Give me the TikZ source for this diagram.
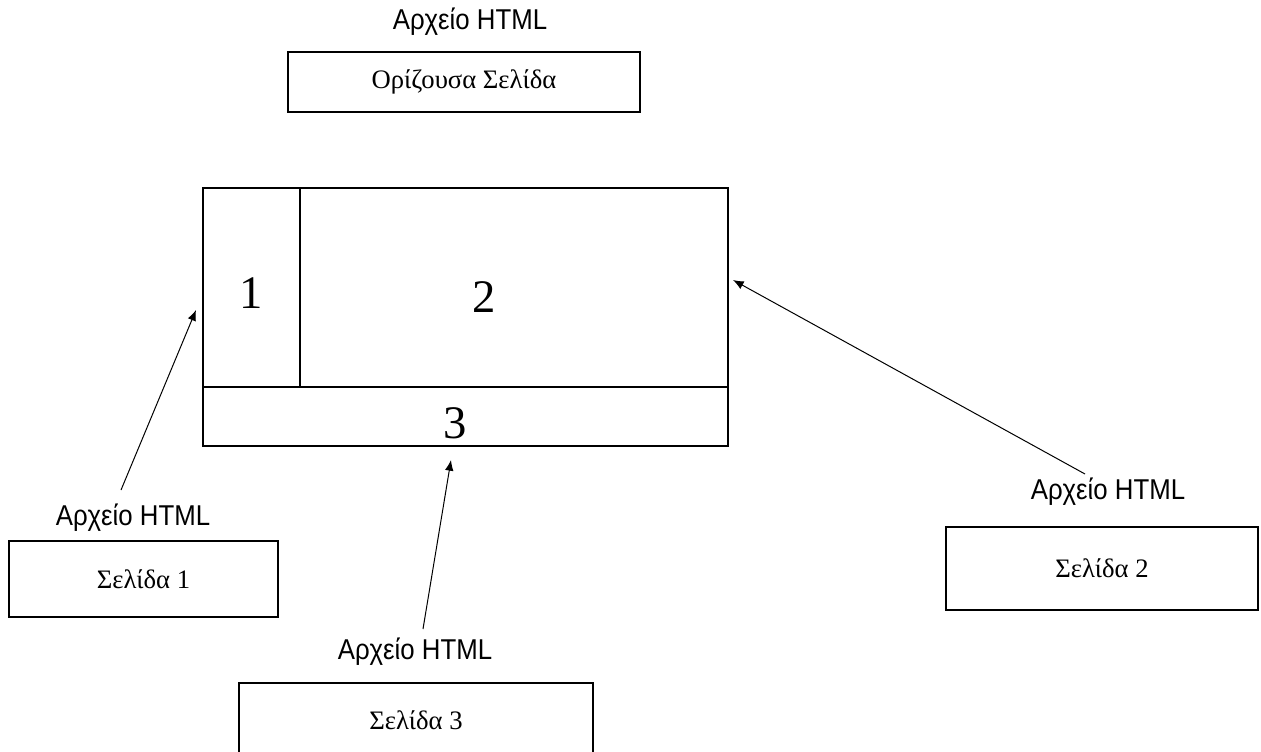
\documentclass[tikz,border=0pt]{standalone}
\usepackage{fontspec}
\usepackage{tikz}
\usetikzlibrary{arrows.meta,positioning,calc}
\newfontfamily\lblfont[FakeStretch=0.9]{Liberation Sans}
\newfontfamily\pagefont{Liberation Serif}
\tikzset{
  box/.style={draw=black, line width=1.2pt, inner sep=0pt, font=\pagefont\fontsize{20}{22}\selectfont},
  frame/.style={draw=black, line width=1.2pt, inner sep=0pt},
  flow/.style={-{Latex[length=8pt,width=6.5pt]}, line width=0.75pt, draw=black},
  lbl/.style={font=\lblfont\fontsize{21.5}{24}\selectfont, inner sep=0pt},
  num/.style={font=\pagefont\fontsize{35}{38}\selectfont, inner sep=0pt}
}
\begin{document}
\begin{tikzpicture}[x=0.75pt,y=-0.75pt]
  \clip (0,0) rectangle (1261,751);
  \fill[white] (0,0) rectangle (1261,751);
  % master page
  \node[lbl] (lbm) at (470,22) {Αρχείο HTML};
  \node[box, minimum width=264pt, minimum height=45pt] (master) at (464,82) {Ορίζουσα Σελίδα};
  % frameset
  \node[frame, minimum width=72.75pt, minimum height=149.25pt] (fr1) at (251.5,287.5) {};
  \node[frame, minimum width=321pt, minimum height=149.25pt] (fr2) at (514,287.5) {};
  \node[frame, minimum width=393.75pt, minimum height=44.25pt] (fr3) at (465.5,416.5) {};
  \node[num] (n1) at (251,293) {1};
  \node[num] (n2) at (484,297) {2};
  \node[num] (n3) at (455,423) {3};
  % pages
  \node[lbl] (lb1) at (133,518) {Αρχείο HTML};
  \node[box, minimum width=201.75pt, minimum height=57pt] (p1) at (143.5,579) {Σελίδα 1};
  \node[lbl] (lb2) at (1108,492) {Αρχείο HTML};
  \node[box, minimum width=234pt, minimum height=62.25pt] (p2) at (1102,568.5) {Σελίδα 2};
  \node[lbl] (lb3) at (415,652) {Αρχείο HTML};
  \node[box, minimum width=265.5pt, minimum height=55.5pt] (p3) at (416,720) {Σελίδα 3};
  % links
  \coordinate (t1) at (121,490);
  \coordinate (h1) at (196,310);
  \coordinate (t2) at (1085,474);
  \coordinate (h2) at (733,280);
  \coordinate (t3) at (423,629);
  \coordinate (h3) at (451,460);
  \draw[flow] (t1) -- (h1);
  \draw[flow] (t2) -- (h2);
  \draw[flow] (t3) -- (h3);
\end{tikzpicture}
\end{document}
